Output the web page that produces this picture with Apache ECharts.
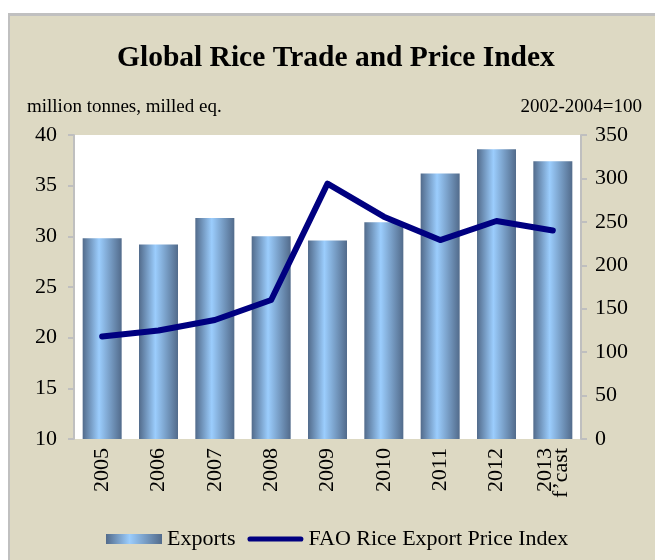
<!DOCTYPE html>
<html>
<head>
<meta charset="utf-8">
<script src="https://cdn.jsdelivr.net/npm/echarts@6/dist/echarts.min.js"></script>
<style>
  html, body { margin: 0; padding: 0; background: #fff; }
  #frame {
    position: absolute; left: 8px; top: 13px; width: 660px; height: 560px;
    background: #ddd9c3; border-left: 2px solid #c0c0c0; border-top: 3px solid #c0c0c0;
  }
  #chart { position: absolute; left: 0; top: 0; width: 655px; height: 560px; }
</style>
</head>
<body>
<div id="frame"></div>
<div id="chart"></div>
<script>
// years on the x axis
var years = ['2005', '2006', '2007', '2008', '2009', '2010', '2011', '2012', '2013\nf\u2019cast']
// global rice exports, million tonnes (milled eq.)
var exportsData = [29.8, 29.2, 31.8, 30.0, 29.6, 31.4, 36.2, 38.6, 37.4]
// FAO rice export price index (2002-2004=100)
var priceIndex = [118, 125, 137, 160, 294, 256, 229, 251, 240]

var serif = '"Liberation Serif", "Times New Roman", serif'

var myChart = echarts.init(document.getElementById('chart'))

var barColor = new echarts.graphic.LinearGradient(0, 0, 1, 0, [
  { offset: 0, color: '#526b8b' },
  { offset: 0.42, color: '#9bcdfd' },
  { offset: 1, color: '#526b8b' }
])

// thick line with round ends for the legend
var lineIcon = 'path://M3,0 L63,0 A3,3 0 0 1 63,6 L3,6 A3,3 0 0 1 3,0 Z'

var option = {
  animation: false,
  title: [
    {
      text: 'Global Rice Trade and Price Index',
      left: 112,
      top: 38,
      textStyle: { fontFamily: serif, fontSize: 29.5, fontWeight: 'bold', color: '#000' }
    },
    {
      text: 'million tonnes, milled eq.',
      left: 22,
      top: 93,
      textStyle: { fontFamily: serif, fontSize: 19, fontWeight: 'normal', color: '#000' }
    },
    {
      text: '2002-2004=100',
      right: 8,
      top: 93,
      textStyle: { fontFamily: serif, fontSize: 19, fontWeight: 'normal', color: '#000' }
    }
  ],
  grid: {
    left: 74,
    right: 74,
    top: 135,
    bottom: 121,
    show: true,
    backgroundColor: '#fff',
    borderWidth: 0
  },
  legend: {
    left: 101,
    top: 523,
    itemWidth: 56,
    itemHeight: 10,
    itemGap: 12,
    textStyle: { fontFamily: serif, fontSize: 22, color: '#000' },
    data: [
      { name: 'Exports', icon: 'rect' },
      { name: 'FAO Rice Export Price Index', icon: lineIcon }
    ]
  },
  xAxis: {
    type: 'category',
    data: years,
    axisLine: { show: false },
    axisTick: { show: false },
    axisLabel: {
      rotate: 90,
      margin: 9,
      interval: 0,
      fontFamily: serif,
      fontSize: 22,
      lineHeight: 16,
      color: '#000'
    }
  },
  yAxis: [
    {
      type: 'value',
      min: 10,
      max: 40,
      interval: 5,
      splitLine: { show: false },
      axisLine: { show: true, lineStyle: { color: '#bfbfbf', width: 2 } },
      axisTick: { show: true, length: 6, lineStyle: { color: '#bfbfbf', width: 2 } },
      axisLabel: { margin: 17, fontFamily: serif, fontSize: 22, color: '#000' }
    },
    {
      type: 'value',
      min: 0,
      max: 350,
      interval: 50,
      position: 'right',
      splitLine: { show: false },
      axisLine: { show: true, lineStyle: { color: '#bfbfbf', width: 2 } },
      axisTick: { show: true, length: 6, lineStyle: { color: '#bfbfbf', width: 2 } },
      axisLabel: { margin: 14, fontFamily: serif, fontSize: 22, color: '#000' }
    }
  ],
  series: [
    {
      name: 'Exports',
      type: 'bar',
      yAxisIndex: 0,
      barWidth: 39,
      itemStyle: { color: barColor },
      data: exportsData
    },
    {
      name: 'FAO Rice Export Price Index',
      type: 'line',
      yAxisIndex: 1,
      symbol: 'none',
      lineStyle: { color: '#000080', width: 6, cap: 'round', join: 'round' },
      itemStyle: { color: '#000080' },
      data: priceIndex
    }
  ]
}

myChart.setOption(option)
</script>
</body>
</html>
